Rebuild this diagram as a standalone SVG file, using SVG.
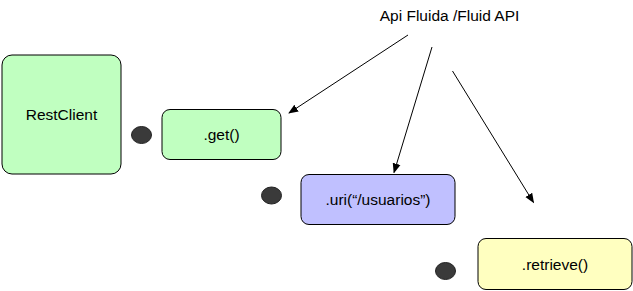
<svg xmlns="http://www.w3.org/2000/svg" width="633" height="291" viewBox="0 0 633 291">
<style>
.box{stroke:#000;stroke-width:1}
.t{font-family:"Liberation Sans",Arial,sans-serif;font-size:15.5px;fill:#000;text-anchor:middle}
.dot{fill:#3a3a3a;stroke:#222;stroke-width:1}
.c{stroke:#000;stroke-width:1;fill:none;marker-end:url(#ah)}
</style>
<defs>
<marker id="ah" viewBox="0 0 10 10" refX="9" refY="5" markerWidth="10" markerHeight="10" markerUnits="userSpaceOnUse" orient="auto">
<path d="M0,1 L10,5 L0,9 Z" fill="#000"/>
</marker>
</defs>
<rect width="633" height="291" fill="#fff"/>
<g id="title"><text class="t" x="449.5" y="20.5">Api Fluida /Fluid API</text></g>
<g id="restclient"><rect class="box" x="2" y="55" width="119" height="119" rx="10" fill="#c0ffc0"/><text class="t" x="61.5" y="120">RestClient</text></g>
<g id="dot1"><ellipse class="dot" cx="141.5" cy="135" rx="10" ry="8.5"/></g>
<g id="get"><rect class="box" x="162" y="109.5" width="119" height="50" rx="8" fill="#c0ffc0"/><text class="t" x="221.5" y="140">.get()</text></g>
<g id="dot2"><ellipse class="dot" cx="271.5" cy="195.5" rx="10" ry="8.5"/></g>
<g id="uri"><rect class="box" x="301" y="174.5" width="154" height="50" rx="8" fill="#c0c0ff"/><text class="t" x="378" y="205">.uri(“/usuarios”)</text></g>
<g id="dot3"><ellipse class="dot" cx="445.5" cy="271" rx="10" ry="8.5"/></g>
<g id="retrieve"><rect class="box" x="478" y="238.5" width="154" height="51" rx="8" fill="#ffffc0"/><text class="t" x="555" y="270">.retrieve()</text></g>
<g id="connectors">
<line class="c" x1="408" y1="35" x2="289" y2="113"/>
<line class="c" x1="432" y1="47" x2="394" y2="172.5"/>
<line class="c" x1="452.5" y1="71" x2="533.5" y2="202.5"/>
</g>
</svg>
